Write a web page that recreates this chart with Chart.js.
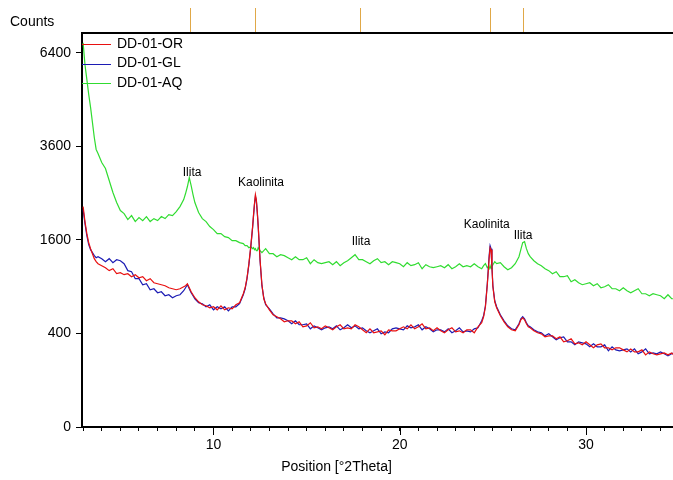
<!DOCTYPE html>
<html lang="es">
<head>
<meta charset="UTF-8">
<title>DD-01 XRD</title>
<script src="https://cdn.jsdelivr.net/npm/chart.js"></script>
<style>
  body { margin: 0; background: #fff; }
  canvas { display: block; }
</style>
</head>
<body>
<canvas id="xrd" width="673" height="480"></canvas>
<script>
// Positions [°2Theta], 10 per row
const positions = [
  3.0, 3.1, 3.2, 3.3, 3.4, 3.5, 3.6, 3.7, 3.8, 4.0,
  4.2, 4.4, 4.6, 4.8, 5.0, 5.2, 5.4, 5.6, 5.8, 6.0,
  6.2, 6.4, 6.6, 6.8, 7.0, 7.2, 7.4, 7.6, 7.8, 8.0,
  8.2, 8.4, 8.5, 8.6, 8.7, 8.8, 8.9, 9.0, 9.2, 9.4,
  9.6, 9.8, 10.0, 10.2, 10.4, 10.6, 10.8, 11.0, 11.2, 11.4,
  11.6, 11.7, 11.8, 11.9, 12.0, 12.1, 12.15, 12.2, 12.25, 12.3,
  12.35, 12.4, 12.5, 12.6, 12.7, 12.8, 13.0, 13.2, 13.4, 13.6,
  13.8, 14.0, 14.2, 14.4, 14.6, 14.8, 15.0, 15.2, 15.4, 15.6,
  15.8, 16.0, 16.2, 16.4, 16.6, 16.8, 17.0, 17.2, 17.4, 17.6,
  17.8, 18.0, 18.2, 18.4, 18.6, 18.8, 19.0, 19.2, 19.4, 19.6,
  19.8, 20.0, 20.2, 20.4, 20.6, 20.8, 21.0, 21.2, 21.4, 21.6,
  21.8, 22.0, 22.2, 22.4, 22.6, 22.8, 23.0, 23.2, 23.4, 23.6,
  23.8, 24.0, 24.2, 24.4, 24.5, 24.6, 24.7, 24.75, 24.8, 24.85,
  24.9, 24.95, 25.0, 25.1, 25.2, 25.4, 25.6, 25.8, 26.0, 26.2,
  26.4, 26.5, 26.6, 26.7, 26.8, 26.9, 27.0, 27.2, 27.4, 27.6,
  27.8, 28.0, 28.2, 28.4, 28.6, 28.8, 29.0, 29.2, 29.4, 29.6,
  29.8, 30.0, 30.2, 30.4, 30.6, 30.8, 31.0, 31.2, 31.4, 31.6,
  31.8, 32.0, 32.2, 32.4, 32.6, 32.8, 33.0, 33.2, 33.4, 33.6,
  33.8, 34.0, 34.2, 34.4, 34.6, 34.8
];

// Counts, same rows as positions
const countsOR = [
  2222, 1930, 1710, 1555, 1455, 1374, 1296, 1250, 1220, 1190,
  1161, 1118, 1146, 1075, 1089, 1061, 1075, 1033, 1061, 1019,
  1033, 979, 1006, 952, 939, 926, 913, 887, 874, 862,
  874, 900, 913, 939, 887, 837, 800, 764, 717, 683,
  672, 650, 661, 628, 672, 628, 650, 639, 683, 706,
  812, 887, 1019, 1220, 1488, 1837, 2063, 2283, 2471, 2366,
  2122, 1855, 1280, 926, 752, 695, 628, 576, 556, 535,
  506, 516, 516, 487, 506, 459, 468, 497, 450, 459,
  441, 468, 450, 432, 459, 478, 441, 450, 441, 478,
  459, 432, 406, 441, 406, 414, 423, 389, 432, 423,
  423, 441, 459, 441, 478, 441, 459, 487, 441, 450,
  423, 450, 423, 406, 432, 450, 414, 423, 406, 432,
  432, 406, 459, 497, 556, 661, 926, 1103, 1311, 1471,
  1438, 1161, 900, 717, 650, 566, 506, 459, 432, 423,
  478, 526, 545, 526, 487, 459, 450, 423, 406, 397,
  372, 380, 380, 356, 372, 332, 340, 356, 316, 324,
  309, 332, 309, 287, 309, 316, 287, 287, 272, 287,
  287, 272, 258, 279, 258, 258, 272, 238, 258, 245,
  238, 245, 251, 238, 251, 225
];

const countsGL = [
  2162, 1892, 1675, 1521, 1438, 1390, 1343, 1311, 1327, 1296,
  1250, 1296, 1235, 1280, 1265, 1220, 1118, 1103, 1006, 1006,
  926, 939, 862, 874, 824, 837, 788, 800, 764, 788,
  800, 849, 887, 926, 874, 824, 788, 752, 706, 695,
  661, 683, 628, 661, 639, 661, 617, 661, 661, 695,
  800, 874, 1006, 1205, 1471, 1818, 2044, 2263, 2429, 2345,
  2103, 1837, 1265, 913, 764, 683, 639, 586, 545, 545,
  535, 516, 487, 516, 478, 478, 487, 441, 468, 450,
  432, 450, 459, 441, 468, 432, 450, 478, 450, 468,
  441, 450, 423, 406, 423, 441, 397, 414, 406, 441,
  450, 441, 432, 468, 450, 459, 478, 432, 459, 441,
  414, 432, 432, 414, 441, 406, 423, 450, 414, 423,
  414, 441, 450, 516, 566, 672, 939, 1132, 1343, 1504,
  1455, 1175, 913, 729, 661, 576, 516, 468, 441, 432,
  487, 535, 556, 535, 497, 468, 459, 432, 414, 406,
  380, 397, 372, 347, 364, 372, 332, 332, 309, 332,
  324, 316, 294, 316, 294, 294, 309, 265, 294, 272,
  265, 272, 279, 258, 279, 245, 258, 279, 245, 251,
  245, 258, 245, 231, 245, 258
];

const countsAQ = [
  6750, 6000, 5528, 5061, 4672, 4243, 3834, 3523, 3422, 3200,
  3056, 2779, 2514, 2304, 2142, 2083, 1967, 2044, 1930, 2005,
  1948, 2025, 1930, 1986, 1948, 2025, 1986, 2063, 2044, 2122,
  2222, 2366, 2493, 2645, 2847, 2667, 2471, 2304, 2103, 1986,
  1930, 1837, 1782, 1710, 1710, 1657, 1640, 1588, 1588, 1555,
  1538, 1504, 1504, 1471, 1488, 1455, 1471, 1438, 1455, 1422,
  1422, 1471, 1422, 1390, 1422, 1455, 1374, 1374, 1327, 1358,
  1343, 1311, 1280, 1327, 1280, 1280, 1311, 1220, 1280, 1235,
  1220, 1235, 1250, 1205, 1250, 1190, 1235, 1265, 1311, 1358,
  1280, 1280, 1250, 1220, 1265, 1296, 1235, 1250, 1205, 1250,
  1235, 1220, 1175, 1235, 1190, 1205, 1235, 1146, 1205, 1175,
  1161, 1175, 1190, 1161, 1205, 1146, 1175, 1220, 1175, 1190,
  1175, 1220, 1175, 1146, 1190, 1220, 1161, 1175, 1146, 1190,
  1146, 1175, 1205, 1250, 1220, 1235, 1175, 1132, 1161, 1220,
  1327, 1438, 1555, 1571, 1455, 1374, 1327, 1265, 1220, 1190,
  1146, 1118, 1075, 1103, 1033, 1033, 1047, 965, 992, 952,
  926, 939, 952, 913, 939, 887, 900, 926, 874, 874,
  849, 887, 849, 824, 849, 874, 812, 812, 788, 812,
  800, 788, 752, 800, 752, 752
];

const seriesNames = ['DD-01-OR', 'DD-01-GL', 'DD-01-AQ'];
const seriesColors = ['#e81010', '#1c1cb4', '#30dc30'];

// axis ticks
const xTicks = [3, 4, 5, 6, 7, 8, 9, 10, 11, 12, 13, 14, 15, 16, 17, 18, 19, 20,
  21, 22, 23, 24, 25, 26, 27, 28, 29, 30, 31, 32, 33, 34];
const yTicks = [0, 400, 1600, 3600, 6400];

// reference peak markers above the plot
const markerPos = [8.74, 12.25, 17.85, 24.85, 26.64];

// peak labels (text centre position, baseline count)
const labelNames = ['Ilita', 'Kaolinita', 'Ilita', 'Kaolinita', 'Ilita'];
const labelPos = [8.85, 12.55, 17.92, 24.67, 26.62];
const labelCounts = [2870, 2667, 1521, 1818, 1623];

// square-root count axis
class SqrtScale extends Chart.LinearScale {
  getPixelForValue(value) {
    const lo = Math.sqrt(this.min), hi = Math.sqrt(this.max);
    return this.getPixelForDecimal((Math.sqrt(Math.max(value, 0)) - lo) / (hi - lo));
  }
  getValueForPixel(pixel) {
    const lo = Math.sqrt(this.min), hi = Math.sqrt(this.max);
    const s = lo + this.getDecimalForPixel(pixel) * (hi - lo);
    return s * s;
  }
}
SqrtScale.id = 'sqrt';
SqrtScale.defaults = Chart.LinearScale.defaults;
Chart.register(SqrtScale);

Chart.defaults.font.family = "'Liberation Sans', Arial, sans-serif";
Chart.defaults.font.size = 14;
Chart.defaults.color = '#000';

const toPoints = (counts) => positions.map((x, i) => ({ x, y: counts[i] }));

const decorations = {
  id: 'decorations',
  afterDraw(chart) {
    const { ctx, chartArea, scales } = chart;
    const xs = scales.x, ys = scales.y;
    ctx.save();

    // top frame line
    ctx.strokeStyle = '#000';
    ctx.lineWidth = 2;
    ctx.beginPath();
    ctx.moveTo(chartArea.left - 1, chartArea.top);
    ctx.lineTo(chart.width, chartArea.top);
    ctx.stroke();

    // longer ticks at labelled positions
    ctx.lineWidth = 1;
    xTicks.filter(v => v % 10 === 0).forEach(v => {
      const px = Math.round(xs.getPixelForValue(v)) + 0.5;
      ctx.beginPath();
      ctx.moveTo(px, chartArea.bottom);
      ctx.lineTo(px, chartArea.bottom + 8);
      ctx.stroke();
    });

    // reference markers
    ctx.strokeStyle = '#e0a848';
    markerPos.forEach(p => {
      const px = Math.round(xs.getPixelForValue(p)) + 0.5;
      ctx.beginPath();
      ctx.moveTo(px, 8);
      ctx.lineTo(px, chartArea.top - 1);
      ctx.stroke();
    });

    // peak labels
    ctx.fillStyle = '#000';
    ctx.font = "12px 'Liberation Sans', Arial, sans-serif";
    ctx.textAlign = 'center';
    ctx.textBaseline = 'alphabetic';
    labelNames.forEach((t, i) => {
      ctx.fillText(t, xs.getPixelForValue(labelPos[i]), ys.getPixelForValue(labelCounts[i]));
    });

    // legend
    ctx.font = "14px 'Liberation Sans', Arial, sans-serif";
    ctx.textAlign = 'left';
    ctx.textBaseline = 'middle';
    chart.data.datasets.forEach((ds, i) => {
      const y = 44 + i * 19.5;
      ctx.strokeStyle = ds.borderColor;
      ctx.lineWidth = 1;
      ctx.beginPath();
      ctx.moveTo(chartArea.left, Math.round(y) + 0.5);
      ctx.lineTo(chartArea.left + 29, Math.round(y) + 0.5);
      ctx.stroke();
      ctx.fillText(ds.label, chartArea.left + 35, y);
    });

    // axis titles
    ctx.fillText('Counts', 10, 22);
    ctx.textAlign = 'center';
    ctx.fillText('Position [°2Theta]', chart.width / 2, 467);
    ctx.restore();
  }
};

new Chart(document.getElementById('xrd'), {
  type: 'line',
  data: {
    datasets: [countsOR, countsGL, countsAQ].map((c, i) => ({
      label: seriesNames[i],
      data: toPoints(c),
      borderColor: seriesColors[i],
      borderWidth: 1.2,
      pointRadius: 0,
      tension: 0
    }))
  },
  options: {
    responsive: false,
    animation: false,
    events: [],
    layout: { padding: { top: 33, right: 0, left: 0, bottom: 0 } },
    plugins: { legend: { display: false }, tooltip: { enabled: false } },
    scales: {
      x: {
        type: 'linear',
        min: 2.94,
        max: 34.67,
        afterBuildTicks: s => { s.ticks = xTicks.map(v => ({ value: v })); },
        afterFit: s => { s.height = 53; },
        grid: { drawOnChartArea: false, tickLength: 4, color: '#000' },
        border: { color: '#000', width: 2 },
        ticks: {
          autoSkip: false,
          maxRotation: 0,
          padding: 6,
          callback: v => (v % 10 === 0 ? String(v) : '')
        }
      },
      y: {
        type: 'sqrt',
        min: 0,
        max: 7100,
        afterBuildTicks: s => { s.ticks = yTicks.map(v => ({ value: v })); },
        afterFit: s => { s.width = 82; },
        grid: { drawOnChartArea: false, tickLength: 6, color: '#000' },
        border: { color: '#000', width: 2 },
        ticks: { padding: 5, callback: v => String(v) }
      }
    }
  },
  plugins: [decorations]
});
</script>
</body>
</html>
